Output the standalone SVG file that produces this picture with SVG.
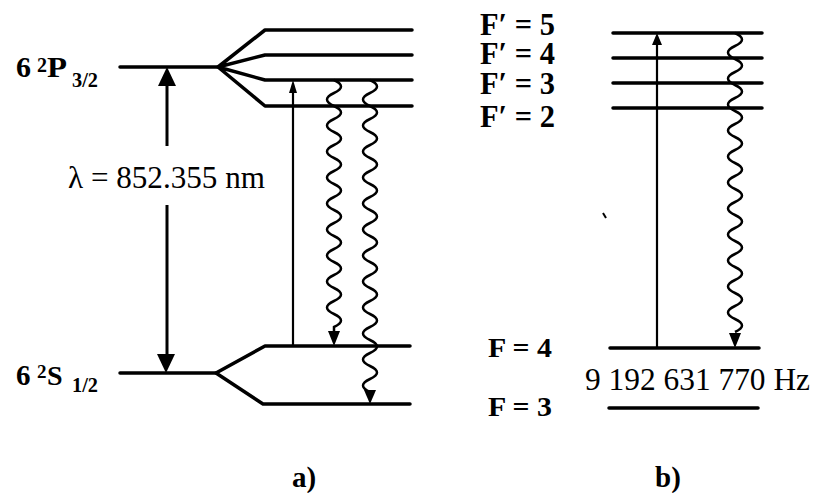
<svg xmlns="http://www.w3.org/2000/svg" width="814" height="493" viewBox="0 0 814 493">
<style>
.lvl{fill:none;stroke:#000;stroke-width:3.5;stroke-linecap:round;stroke-linejoin:round}
.ar{fill:none;stroke:#000;stroke-width:3}
.thin{fill:none;stroke:#000;stroke-width:2.2}
.wave{fill:none;stroke:#000;stroke-width:2.5}
.hd{fill:#000;stroke:none}
.t{font-family:"Liberation Serif","Times New Roman",serif;fill:#000}
.b{font-weight:bold}
</style>
<rect width="814" height="493" fill="#fff"/>
<g id="level-P32">
<path class="lvl" d="M120,67 H218"/>
<path class="lvl" d="M218,67 L265,30 H412 M218,67 L265,55 H412 M218,67 L265,80 H412 M218,67 L265,106 H412"/>
<text class="t b" x="16" y="77" font-size="30">6</text>
<text class="t b" x="37" y="72" font-size="20">2</text>
<text class="t b" x="47" y="77" font-size="30" textLength="20" lengthAdjust="spacingAndGlyphs">P</text>
<text class="t b" x="72" y="87" font-size="21" textLength="26" lengthAdjust="spacingAndGlyphs">3/2</text>
</g>
<g id="level-S12">
<path class="lvl" d="M120,373 H216"/>
<path class="lvl" d="M216,373 L265,346 H410 M216,373 L263,404 H410"/>
<text class="t b" x="16" y="385" font-size="29">6</text>
<text class="t b" x="37" y="378" font-size="19">2</text>
<text class="t b" x="47" y="385" font-size="28">S</text>
<text class="t b" x="72" y="392" font-size="20" textLength="26" lengthAdjust="spacingAndGlyphs">1/2</text>
</g>
<g id="label-lambda">
<text class="t" x="68" y="188" font-size="32" textLength="197" lengthAdjust="spacingAndGlyphs">λ = 852.355 nm</text>
</g>
<g id="hyperfine-excited">
<path class="lvl" d="M613,33 H762 M613,58 H762 M613,83 H762 M613,108 H762"/>
<text class="t b" x="480" y="35" font-size="31" textLength="75" lengthAdjust="spacingAndGlyphs">F′ = 5</text>
<text class="t b" x="480" y="64" font-size="31" textLength="75" lengthAdjust="spacingAndGlyphs">F′ = 4</text>
<text class="t b" x="480" y="94" font-size="31" textLength="75" lengthAdjust="spacingAndGlyphs">F′ = 3</text>
<text class="t b" x="480" y="127" font-size="31" textLength="75" lengthAdjust="spacingAndGlyphs">F′ = 2</text>
</g>
<g id="hyperfine-ground">
<path class="lvl" d="M610,348 H759 M609,408 H758"/>
<text class="t b" x="488" y="357" font-size="28" textLength="64" lengthAdjust="spacingAndGlyphs">F = 4</text>
<text class="t b" x="488" y="416" font-size="28" textLength="64" lengthAdjust="spacingAndGlyphs">F = 3</text>
<text class="t" x="585" y="390" font-size="32" textLength="225" lengthAdjust="spacingAndGlyphs">9 192 631 770 Hz</text>
</g>
<g id="captions">
<text class="t b" x="292" y="487" font-size="29">a)</text>
<text class="t b" x="655" y="487" font-size="29">b)</text>
</g>
<g id="connectors">
<path class="ar" d="M167,84 V146 M167,205 V356"/>
<polygon class="hd" points="167,67 158,86 176,86"/>
<polygon class="hd" points="166,373 157,354 175,354"/>
<path class="thin" d="M293,346 V91"/>
<polygon class="hd" points="293,80 289,93 297,93"/>
<path class="wave" d="M334,80 q14,6.5 0,13 t0,13 t0,13 t0,13 t0,13 t0,13 t0,13 t0,13 t0,13 t0,13 t0,13 t0,13 t0,13 t0,13 t0,13 t0,13 t0,13 t0,13 t0,13 l0,5"/>
<polygon class="hd" points="334,346 328,331 340,331"/>
<path class="wave" d="M370,80 q14,6.5 0,13 t0,13 t0,13 t0,13 t0,13 t0,13 t0,13 t0,13 t0,13 t0,13 t0,13 t0,13 t0,13 t0,13 t0,13 t0,13 t0,13 t0,13 t0,13 t0,13 t0,13 t0,13 t0,13 t0,13"/>
<polygon class="hd" points="370,404 364,390 376,390"/>
<path class="thin" d="M657,348 V44"/>
<polygon class="hd" points="657,33 652,45 662,45"/>
<path class="wave" d="M735,33 q14,6.5 0,13 t0,13 t0,13 t0,13 t0,13 t0,13 t0,13 t0,13 t0,13 t0,13 t0,13 t0,13 t0,13 t0,13 t0,13 t0,13 t0,13 t0,13 t0,13 t0,13 t0,13 t0,13 t0,13"/>
<polygon class="hd" points="735,348 729,333 741,333"/>
</g>
<path d="M603,213 L606,218" stroke="#000" stroke-width="2"/>
</svg>
